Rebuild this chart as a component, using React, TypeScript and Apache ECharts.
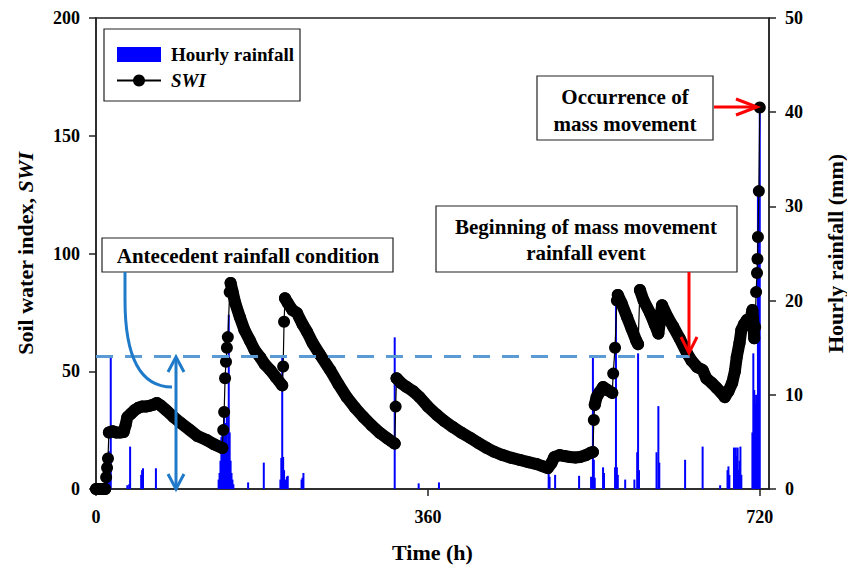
import React, { useEffect, useRef } from 'react';
import * as echarts from 'echarts';

const FONT = '"Liberation Serif", "Times New Roman", Times, serif';

// Axis ranges / ticks
const timeRange = [0, 730];
const timeTickStep = 360;
const swiRange = [0, 200];
const swiTickStep = 50;
const rainRange = [0, 50];
const rainTickStep = 10;

// SWI: gradual runs (drawn as chained markers)
const swiRuns: [number, number][][] = [
  [[0, 0], [2, 0], [4, 0], [6, 0], [8, 0], [10, 0]],
  [[14, 24], [18, 24.5], [22, 24], [26, 24], [30, 24.2], [32, 27], [34, 30.5], [38, 32], [42, 33.5], [46, 34.5], [50, 35], [54, 35], [58, 35.3], [62, 35.8], [66, 36.5], [70, 35.5], [76, 33.5], [84, 30.6], [92, 28], [102, 25], [110, 22.5], [120, 20.8], [128, 19], [137, 17.4]],
  [[146, 87.5], [148, 84], [151, 79], [156, 73], [161, 67.5], [167, 63], [172, 59], [178, 56], [183, 53], [189, 50.5], [195, 47.5], [202, 44]],
  [[205, 81], [208, 79], [213, 76], [218, 74.7], [224, 70], [229, 66.7], [235, 62], [243, 57], [254, 50.5], [263, 44.5], [272, 39], [281, 34.5], [290, 30.6], [299, 27], [308, 23.8], [316, 21.5], [324, 19.3]],
  [[326, 47], [331, 45], [337, 43.3], [344, 41.5], [351, 39], [360, 35], [370, 31.4], [378, 28.8], [387, 26.3], [396, 24], [406, 21.7], [415, 19.5], [424, 17.4], [432, 15.8], [441, 14.4], [450, 13.3], [460, 12.3], [469, 11.4], [478, 10.6], [485, 9.6], [490, 8.9], [494, 11], [497, 13.5], [503, 14.4], [508, 14], [514, 13.6], [520, 13.4], [525, 13.6], [531, 14.3], [536, 15.3], [539, 15.7]],
  [[541, 35.7], [543, 39], [546, 41], [550, 43.3], [555, 42], [560, 40.8]],
  [[566, 82.4], [570, 79], [576, 73], [581, 68], [586, 63], [588, 61.5]],
  [[590, 84.5], [594, 80], [601, 74.7], [606, 70], [610, 66], [612, 72], [614, 78], [620, 73], [626, 69], [633, 64], [641, 57.7], [646, 54.5], [652, 51.8], [658, 50.5], [662, 47], [668, 45], [673, 43], [678, 41], [682, 39], [686, 41.5], [690, 45], [693, 50], [695, 56], [698, 62], [700, 67.5], [703, 70], [706, 71.8], [710, 72], [712, 76], [713, 70.5], [714, 64]],
];

// SWI: rapid rises between runs (thin connecting line)
const swiJumps: [number, number][][] = [
  [[11, 5], [12, 9], [13, 13]],
  [[138, 25], [139, 32.7], [140, 47], [141, 54], [142, 60], [143, 64.5], [145, 83.6]],
  [[203, 52], [204, 71]],
  [[325, 35]],
  [[540, 29.3]],
  [[561, 49], [563, 60], [565, 80]],
  [],
  [[715, 68.8], [716, 83.6], [717, 91.7], [717.5, 97.7], [718, 107], [719, 126.5], [720, 162]],
];

// Hourly rainfall [hour, mm]
const rainfall: [number, number][] = [
  [12, 1.5], [13, 3.5], [14, 4], [16, 14.2], [34, 0.4], [36, 0.5], [37, 4.5], [49, 1.5], [50, 2], [51, 2.2], [65, 2.2],
  [133, 1], [134, 1.7], [135, 3], [136, 5.5], [137, 6], [138, 5.5], [139, 8], [140, 7], [141, 5.5], [142, 8.2], [143, 4], [144, 18.5], [145, 6], [146, 3], [147, 1.7], [148, 1], [149, 0.5],
  [165, 0.7], [182, 2.8],
  [200, 1], [201, 3.3], [202, 14], [203, 3.4], [204, 2], [205, 1], [207, 1.3], [208, 1.4], [223, 1], [224, 1.2], [225, 1.7],
  [324, 16.1], [350, 0.6], [372, 0.7],
  [491, 1.7], [492, 1.3], [498, 1.5], [524, 1.4], [537, 1.3], [539, 14], [540, 3.1], [541, 1.2], [550, 2.3], [551, 1.7],
  [563, 2.3], [564, 20], [565, 2.3], [566, 1.5], [574, 1], [584, 1], [587, 3.9], [588, 14.4], [589, 2],
  [608, 3.9], [610, 8.8], [611, 2.8], [639, 3.1], [658, 4.5], [677, 0.4],
  [685, 2], [686, 2.4], [687, 1.5], [692, 4.4], [693, 2.5], [694, 4.4], [695, 3.5], [696, 4.4], [697, 2], [698, 3], [699, 4.5], [700, 1.5],
  [712, 6], [713, 14.4], [714, 10.5], [715, 9], [716, 10], [717, 8], [718, 31.7], [719, 28], [720, 40.5],
];

// Threshold (dashed line) on SWI
const swiThreshold = 56.5;
const thresholdEnd = 644;

const boxStyle = { fill: '#fff', stroke: '#222', lineWidth: 1.2 };
const annFont = `bold 21px ${FONT}`;
const RED = '#ff0000';
const BLUE = '#1f7bc9';

export default function App() {
  const ref = useRef<HTMLDivElement>(null);
  useEffect(() => {
    if (!ref.current) return;
    const chart = echarts.init(ref.current, undefined, { renderer: 'svg' });

    const swiAll = [...swiRuns.flat(), ...swiJumps.flat()].sort((a, b) => a[0] - b[0]);
    const trace: any[] = [];
    swiRuns.forEach((run, i) => {
      if (i > 0) trace.push([run[0][0] - 0.5, null]);
      run.forEach((p) => trace.push(p));
    });

    const tickLabel = { fontFamily: FONT, fontSize: 18, fontWeight: 'bold', color: '#000' };
    const axisLine = { show: true, lineStyle: { color: '#222', width: 1.5 } };
    const axisTick = { show: true, inside: false, length: 7, lineStyle: { color: '#222', width: 1.5 } };
    const nameStyle = {
      fontFamily: FONT, fontSize: 22, fontWeight: 'bold', color: '#000',
      rich: {
        a: { fontFamily: FONT, fontSize: 22, fontWeight: 'bold', color: '#000' },
        b: { fontFamily: FONT, fontSize: 22, fontWeight: 'bold', fontStyle: 'italic', color: '#000' },
      },
    };

    chart.setOption({
      animation: false,
      grid: {
        left: 96, right: 78, top: 18, bottom: 77, show: true, borderColor: '#222', borderWidth: 1.5,
        backgroundColor: 'transparent', containLabel: false, outerBoundsMode: 'none',
      },
      legend: {
        left: 116, top: 45, orient: 'vertical', itemWidth: 44, itemHeight: 15, itemGap: 7, padding: 0,
        selectedMode: false,
        data: [{ name: 'Hourly rainfall', icon: 'rect' }, { name: 'SWI' }],
        formatter: (n: string) => (n === 'SWI' ? '{it|SWI}' : n),
        textStyle: {
          fontFamily: FONT, fontSize: 19, fontWeight: 'bold', color: '#000', lineHeight: 18, padding: [0, 0, 0, 5],
          rich: { it: { fontFamily: FONT, fontSize: 19, fontWeight: 'bold', fontStyle: 'italic', color: '#000' } },
        },
      },
      xAxis: {
        type: 'value', min: timeRange[0], max: timeRange[1], interval: timeTickStep,
        name: 'Time (h)', nameLocation: 'middle', nameGap: 52, nameTextStyle: nameStyle,
        axisLine, axisTick,
        axisLabel: { ...tickLabel, margin: 19, showMaxLabel: false, formatter: (v: number) => (v % timeTickStep === 0 ? String(v) : '') },
        splitLine: { show: false },
      },
      yAxis: [
        {
          type: 'value', min: swiRange[0], max: swiRange[1], interval: swiTickStep, position: 'left',
          name: '{a|Soil water index, }{b|SWI}', nameLocation: 'middle', nameGap: 60, nameRotate: 90, nameTextStyle: nameStyle,
          axisLine, axisTick, axisLabel: { ...tickLabel, margin: 16 }, splitLine: { show: false },
        },
        {
          type: 'value', min: rainRange[0], max: rainRange[1], interval: rainTickStep, position: 'right',
          name: 'Hourly rainfall (mm)', nameLocation: 'middle', nameGap: 55, nameRotate: 90, nameTextStyle: nameStyle,
          axisLine, axisTick, axisLabel: { ...tickLabel, margin: 16 }, splitLine: { show: false },
        },
      ],
      series: [
        {
          name: 'Hourly rainfall', type: 'bar', xAxisIndex: 0, yAxisIndex: 1, data: rainfall,
          barWidth: 2, itemStyle: { color: '#0000ff' }, z: 1,
        },
        {
          name: 'SWI trace', type: 'line', yAxisIndex: 0, data: trace, showSymbol: false, symbol: 'none',
          connectNulls: false, lineStyle: { color: '#000', width: 12, cap: 'round', join: 'round' }, z: 2, silent: true,
        },
        {
          name: 'SWI', type: 'line', yAxisIndex: 0, data: swiAll, symbol: 'circle', symbolSize: 12, showAllSymbol: true,
          itemStyle: { color: '#000' }, lineStyle: { color: '#000', width: 1.2 }, z: 3,
          markLine: {
            silent: true, symbol: ['none', 'none'], label: { show: false },
            lineStyle: { color: '#5b9bd5', width: 3, type: [17, 12] },
            data: [[{ coord: [0, swiThreshold] }, { coord: [thresholdEnd, swiThreshold] }]],
          },
        },
      ],
      graphic: [
        { type: 'rect', shape: { x: 104, y: 29, width: 196, height: 72 }, style: { fill: 'none', stroke: '#222', lineWidth: 1.2 }, z: 10 },
        // Antecedent box
        { type: 'rect', shape: { x: 102, y: 238, width: 291, height: 34 }, style: boxStyle, z: 10 },
        { type: 'text', x: 248, y: 256, style: { text: 'Antecedent rainfall condition', font: annFont, fill: '#000', align: 'center', verticalAlign: 'middle' }, z: 11 },
        // Beginning box
        { type: 'rect', shape: { x: 436, y: 206, width: 301, height: 66 }, style: boxStyle, z: 10 },
        { type: 'text', x: 586, y: 240, style: { text: 'Beginning of mass movement\nrainfall event', font: annFont, lineHeight: 26, fill: '#000', align: 'center', verticalAlign: 'middle' }, z: 11 },
        // Occurrence box
        { type: 'rect', shape: { x: 537, y: 76, width: 176, height: 64 }, style: boxStyle, z: 10 },
        { type: 'text', x: 625, y: 110, style: { text: 'Occurrence of\nmass movement', font: annFont, lineHeight: 27, fill: '#000', align: 'center', verticalAlign: 'middle' }, z: 11 },
        // Red arrows
        { type: 'line', shape: { x1: 714, y1: 107, x2: 755, y2: 107 }, style: { stroke: RED, lineWidth: 3 }, z: 12 },
        { type: 'polyline', shape: { points: [[736, 99], [757, 107], [736, 115]] }, style: { stroke: RED, lineWidth: 3, fill: 'none' }, z: 12 },
        { type: 'line', shape: { x1: 689, y1: 272, x2: 689, y2: 351 }, style: { stroke: RED, lineWidth: 3 }, z: 12 },
        { type: 'polyline', shape: { points: [[681, 337], [689, 353], [697, 337]] }, style: { stroke: RED, lineWidth: 3, fill: 'none' }, z: 12 },
        // Blue curve and double arrow
        { type: 'line', shape: { x1: 125, y1: 272, x2: 125, y2: 300 }, style: { stroke: BLUE, lineWidth: 3 }, z: 12 },
        { type: 'bezierCurve', shape: { x1: 125, y1: 300, cpx1: 125, cpy1: 365, cpx2: 145, cpy2: 387, x2: 172, y2: 387 }, style: { stroke: BLUE, lineWidth: 3, fill: 'none' }, z: 12 },
        { type: 'line', shape: { x1: 176, y1: 359, x2: 176, y2: 487 }, style: { stroke: BLUE, lineWidth: 3 }, z: 12 },
        { type: 'polyline', shape: { points: [[168, 372], [176, 357], [184, 372]] }, style: { stroke: BLUE, lineWidth: 3, fill: 'none' }, z: 12 },
        { type: 'polyline', shape: { points: [[168, 474], [176, 489], [184, 474]] }, style: { stroke: BLUE, lineWidth: 3, fill: 'none' }, z: 12 },
      ],
    });
    return () => chart.dispose();
  }, []);
  return <div ref={ref} style={{ position: 'fixed', left: 0, top: 0, width: 847, height: 566, background: '#fff' }} />;
}
